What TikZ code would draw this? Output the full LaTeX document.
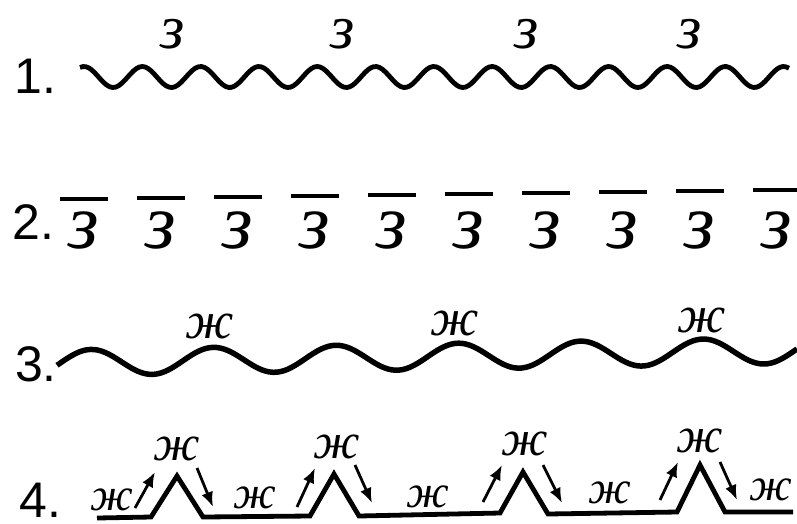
\documentclass[tikz,border=0pt]{standalone}
\usepackage{fontspec}
\setmainfont{Liberation Sans}
\newfontfamily\cyrfont{Liberation Serif}
\usetikzlibrary{%
    arrows.meta
}
\tikzset{headarrow/.style = {-{Latex[length=15pt,width=12pt]}, line width=2.8pt}}
\tikzset{wavy/.style = {line width=4.8pt, line join=round}}
\tikzset{dashbar/.style = {line width=4pt}}
\tikzset{rownum/.style = {anchor=base west, inner sep=0pt, font=\fontsize{50}{54}\selectfont}}
\tikzset{cyr/.style = {anchor=base, inner sep=0pt, font=\cyrfont\itshape\fontsize{#1}{#1}\selectfont}}

\begin{document}
\begin{tikzpicture}[x=1pt, y=-1pt]
    \useasboundingbox (0,0) rectangle (797,523);
    \clip (0,0) rectangle (797,523);

    \node[rownum] (n1) at (14,93) {1.};
    \node[rownum] (n2) at (12,239) {2.};
    \node[rownum] (n3) at (15,381) {3.};
    \node[rownum] (n4) at (19,517) {4.};

    % 1
    \draw[wavy] plot[domain=80:789, samples=240]
        (\x, {77 - 10.5*cos((\x-84)/58.3*360)});
    \foreach \Name/\X in {a/173, b/343, c/527, d/690}
        \node[cyr=62] (z\Name) at (\X,48) {з};

    % 2
    \foreach \i in {0,...,9} {
        \coordinate (dl\i) at ({60+77*\i},{199-\i});
        \coordinate (dr\i) at ({108+77*\i},{199-\i});
        \draw[dashbar] (dl\i) -- (dr\i);
        \node[cyr=78] (zz\i) at ({84+77*\i},248) {з};
    }

    % 3
    \draw[wavy, line width=5.5pt] plot[domain=57:797, samples=200]
        (\x, {363 - 0.017*(\x-57) - 13*cos((\x-91)/122.4*360)});
    \foreach \Name/\X/\Y in {a/210/338, b/455/335, c/702/332}
        \node[cyr=52] (zh\Name) at (\X,\Y) {ж};

    % 4
    \foreach \Name/\X/\Y in {b0/97/518, b1/151/517, t1/177/476, c1/203/517,
                             b2/310/516, t2/334/474, c2/359/516,
                             b3/500/513, t3/523/472, c3/548/514,
                             b4/677/512, t4/700/465, c4/725/512, e/793/512}
        \coordinate (\Name) at (\X,\Y);
    \draw[wavy, line join=miter] (b0) -- (b1) -- (t1) -- (c1) -- (b2) -- (t2) -- (c2)
        -- (b3) -- (t3) -- (c3) -- (b4) -- (t4) -- (c4) -- (e);

    \foreach \n/\Sx/\Sy/\Ex/\Ey in {1/135/508/155/472, 2/297/507/315/468,
                                    3/483/502/502/465, 4/660/500/678/462} {
        \coordinate (ua\n) at (\Sx,\Sy);
        \coordinate (ub\n) at (\Ex,\Ey);
        \draw[headarrow] (ua\n) -- (ub\n);
    }
    \foreach \n/\Sx/\Sy/\Ex/\Ey in {1/197/468/213/507, 2/355/465/372/503,
                                    3/543/465/562/503, 4/720/462/737/500} {
        \coordinate (da\n) at (\Sx,\Sy);
        \coordinate (db\n) at (\Ex,\Ey);
        \draw[headarrow] (da\n) -- (db\n);
    }

    \foreach \n/\X/\Y in {1/177/460, 2/337/458, 3/525/455, 4/700/452}
        \node[cyr=50] (hi\n) at (\X,\Y) {ж};
    \foreach \n/\X/\Y in {1/112/510, 2/255/508, 3/428/507, 4/610/503, 5/771/500}
        \node[cyr=46] (lo\n) at (\X,\Y) {ж};
\end{tikzpicture}
\end{document}
